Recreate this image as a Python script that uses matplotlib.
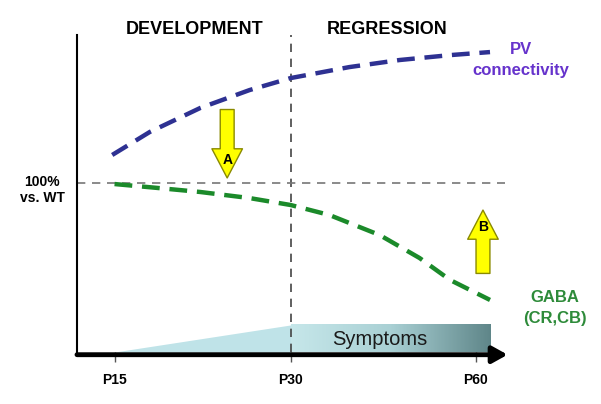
import matplotlib.pyplot as plt
import numpy as np
from matplotlib.colors import LinearSegmentedColormap

plt.rcParams['font.family'] = ['Liberation Sans', 'DejaVu Sans']

# schematic timeline (x: position along age axis, y: % vs. WT)
tick_pos = [15, 30, 45.8]
tick_labels = ['P15', 'P30', 'P60']

pv_x = [14.8, 18.0, 22.3, 26.5, 30.0, 35.0, 39.3, 43.6, 47.0]
pv_y = [116.6, 130.2, 144.4, 155.0, 162.1, 168.6, 172.8, 175.7, 177.5]

gaba_x = [15.0, 18.8, 22.3, 26.5, 30.0, 33.3, 37.6, 41.0, 43.6, 47.0]
gaba_y = [99.4, 97.0, 94.7, 91.1, 87.0, 81.1, 69.2, 55.6, 42.6, 30.8]

symptom_x = [15, 30, 47]
symptom_top = [0, 16, 16]

fig = plt.figure(figsize=(6.01, 4.04), dpi=100)
ax = fig.add_axes([77 / 601, 52 / 404, 440 / 601, 317 / 404])
ax.set_xlim(11.8, 49.3)
ax.set_ylim(0, 187.6)
for s in ['top', 'right', 'bottom']:
    ax.spines[s].set_visible(False)
ax.spines['left'].set_linewidth(1.5)
ax.set_yticks([])
ax.set_xticks(tick_pos)
ax.set_xticklabels(tick_labels, fontsize=10, fontweight='bold')
ax.tick_params(axis='x', length=7, width=1, color='#555555', pad=8)

# symptoms wedge + gradient bar
ax.fill_between(symptom_x[:2], [0, 0], symptom_top[:2], color='#bfe3e8', lw=0, zorder=1)
grad = np.linspace(0, 1, 256).reshape(1, -1)
cmap = LinearSegmentedColormap.from_list('symp', ['#c6e7ea', '#a9d0d4', '#5f8689'])
ax.imshow(grad, cmap=cmap, aspect='auto', zorder=1,
          extent=[symptom_x[1], symptom_x[2], 0, symptom_top[2]])
ax.text(37.6, 7.5, 'Symptoms', fontsize=14.5, color='#1a1a1a', ha='center', va='center', zorder=3)
ax.set_xlim(11.8, 49.3)
ax.set_ylim(0, 187.6)

# reference lines
ax.axvline(30, color='#444444', lw=1.2, ls=(0, (5, 4)), zorder=2)
ax.plot([11.8, 48.3], [100, 100], color='#777777', lw=1.2, ls=(0, (5, 4)), zorder=2)

# curves
ax.plot(pv_x, pv_y, color='#2e3192', lw=3.2, ls=(0, (4, 2.2)), zorder=4)
ax.plot(gaba_x, gaba_y, color='#1b8a2a', lw=3.2, ls=(0, (4, 2.2)), zorder=4)

# x axis arrow
ax.annotate('', xy=(48.5, -1.6), xytext=(11.8, -1.6), annotation_clip=False,
            arrowprops=dict(arrowstyle='-|>,head_width=0.5,head_length=0.9',
                            lw=3.5, color='black', mutation_scale=10, shrinkA=0, shrinkB=0), zorder=5)

# yellow arrows
arrow_style = 'simple,head_width=2.2,head_length=2.1,tail_width=1.0'
ax.annotate('', xy=(24.6, 103), xytext=(24.6, 143.5),
            arrowprops=dict(arrowstyle=arrow_style, mutation_scale=10, fc='#ffff00',
                            ec='#8a8a00', lw=1, shrinkA=0, shrinkB=0), zorder=6)
ax.text(24.6, 113.5, 'A', ha='center', va='center', fontsize=10, fontweight='bold', zorder=7)
ax.annotate('', xy=(46.4, 84), xytext=(46.4, 46.5),
            arrowprops=dict(arrowstyle=arrow_style, mutation_scale=10, fc='#ffff00',
                            ec='#8a8a00', lw=1, shrinkA=0, shrinkB=0), zorder=6)
ax.text(46.4, 74, 'B', ha='center', va='center', fontsize=10, fontweight='bold', zorder=7)

# labels
fig.text(195 / 601, 1 - 30 / 404, 'DEVELOPMENT', ha='center', va='center', fontsize=13, fontweight='bold')
fig.text(387 / 601, 1 - 30 / 404, 'REGRESSION', ha='center', va='center', fontsize=13, fontweight='bold')
fig.text(521 / 601, 1 - 60 / 404, 'PV\nconnectivity', ha='center', va='center', fontsize=12,
         fontweight='bold', color='#6633cc', linespacing=1.45)
fig.text(555 / 601, 1 - 308 / 404, 'GABA\n(CR,CB)', ha='center', va='center', fontsize=12,
         fontweight='bold', color='#2e8b3a', linespacing=1.45)
fig.text(42 / 601, 1 - 190 / 404, '100%\nvs. WT', ha='center', va='center', fontsize=10,
         fontweight='bold', linespacing=1.2)

fig.savefig('out.png', dpi=100)
